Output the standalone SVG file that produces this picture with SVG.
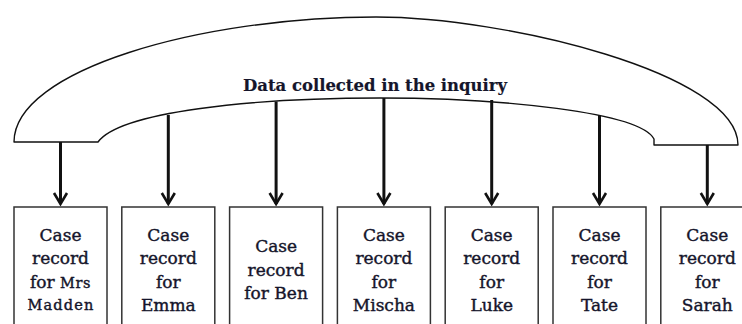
<svg xmlns="http://www.w3.org/2000/svg" width="742" height="324" viewBox="0 0 742 324">
  <style>
    .band { fill: #ffffff; stroke: #111111; stroke-width: 1.4; stroke-linejoin: round; }
    .box { fill: #ffffff; stroke: #333333; stroke-width: 1.5; }
    .arrow { stroke: #111111; stroke-width: 3; fill: none; marker-end: url(#head); }
    .title { font-family: "DejaVu Serif", "Liberation Serif", serif; font-weight: bold; font-size: 17.5px; fill: #15152b; stroke: #15152b; stroke-width: 0.2; text-anchor: middle; }
    .label { font-family: "DejaVu Serif", "Liberation Serif", serif; font-size: 17px; fill: #15152b; stroke: #15152b; stroke-width: 0.4; text-anchor: middle; }
    .small { font-size: 14.5px; letter-spacing: 0.6px; }
    .smaller { font-size: 14.5px; letter-spacing: 1.2px; }
  </style>
  <defs>
    <marker id="head" markerUnits="userSpaceOnUse" viewBox="-8 -13 16 15" markerWidth="16" markerHeight="15" refX="0" refY="0" orient="auto-start-reverse" overflow="visible">
      <path d="M-11,-6.5 L0,0 L-11,6.5" fill="none" stroke="#111111" stroke-width="2.6" stroke-linejoin="miter"/>
    </marker>
  </defs>

  <rect width="742" height="324" fill="#ffffff"/>

  <!-- umbrella band holding the collected data -->
  <g id="inquiry">
    <path class="band" d="M14,142 C14,70 200,17 376,17 C504,17 738,73 738,145 L654,145 L654,139 C640,112 500,98 380,98 C250,98 120,112 98,142 Z"/>
    <text class="title" x="375" y="91" textLength="264" lengthAdjust="spacingAndGlyphs">Data collected in the inquiry</text>
  </g>

  <!-- connectors from the band down to each case record -->
  <g id="connectors">
    <line class="arrow" x1="60.5" y1="142" x2="60.5" y2="204"/>
    <line class="arrow" x1="168.3" y1="115" x2="168.3" y2="204"/>
    <line class="arrow" x1="276.1" y1="101.5" x2="276.1" y2="204"/>
    <line class="arrow" x1="383.9" y1="98" x2="383.9" y2="204"/>
    <line class="arrow" x1="491.7" y1="100" x2="491.7" y2="204"/>
    <line class="arrow" x1="599.5" y1="115" x2="599.5" y2="204"/>
    <line class="arrow" x1="707.3" y1="145" x2="707.3" y2="204"/>
  </g>

  <g id="record-madden">
    <rect class="box" x="14" y="207" width="93" height="130"/>
    <text class="label" x="60.5" y="241">Case</text>
    <text class="label" x="60.5" y="264">record</text>
    <text class="label" x="60.5" y="288">for <tspan class="small">Mrs</tspan></text>
    <text class="label smaller" x="61" y="310">Madden</text>
  </g>

  <g id="record-emma">
    <rect class="box" x="121.8" y="207" width="93" height="130"/>
    <text class="label" x="168.3" y="241">Case</text>
    <text class="label" x="168.3" y="264">record</text>
    <text class="label" x="168.3" y="287.5">for</text>
    <text class="label" x="168.3" y="310.5">Emma</text>
  </g>

  <g id="record-ben">
    <rect class="box" x="229.6" y="207" width="93" height="130"/>
    <text class="label" x="276.1" y="252">Case</text>
    <text class="label" x="276.1" y="275.5">record</text>
    <text class="label" x="276.1" y="299">for Ben</text>
  </g>

  <g id="record-mischa">
    <rect class="box" x="337.4" y="207" width="93" height="130"/>
    <text class="label" x="383.9" y="241">Case</text>
    <text class="label" x="383.9" y="264">record</text>
    <text class="label" x="383.9" y="287.5">for</text>
    <text class="label" x="383.9" y="310.5">Mischa</text>
  </g>

  <g id="record-luke">
    <rect class="box" x="445.2" y="207" width="93" height="130"/>
    <text class="label" x="491.7" y="241">Case</text>
    <text class="label" x="491.7" y="264">record</text>
    <text class="label" x="491.7" y="287.5">for</text>
    <text class="label" x="491.7" y="310.5">Luke</text>
  </g>

  <g id="record-tate">
    <rect class="box" x="553" y="207" width="93" height="130"/>
    <text class="label" x="599.5" y="241">Case</text>
    <text class="label" x="599.5" y="264">record</text>
    <text class="label" x="599.5" y="287.5">for</text>
    <text class="label" x="599.5" y="310.5">Tate</text>
  </g>

  <g id="record-sarah">
    <rect class="box" x="660.8" y="207" width="93" height="130"/>
    <text class="label" x="707.3" y="241">Case</text>
    <text class="label" x="707.3" y="264">record</text>
    <text class="label" x="707.3" y="287.5">for</text>
    <text class="label" x="707.3" y="310.5">Sarah</text>
  </g>
</svg>
